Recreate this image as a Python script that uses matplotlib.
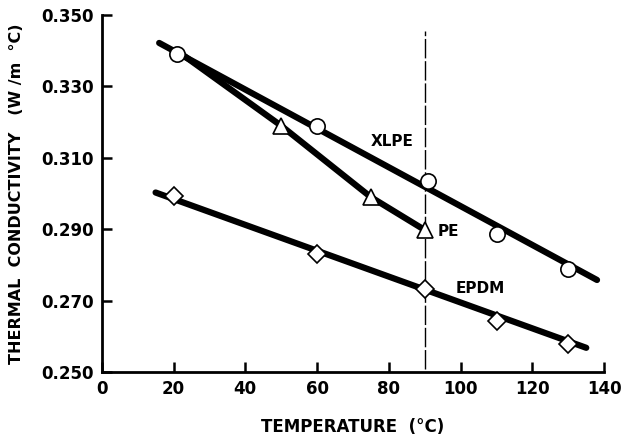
import matplotlib
matplotlib.use("Agg")
import matplotlib.pyplot as plt

plt.rcParams['font.family'] = ['DejaVu Sans']

# Measured data points
xlpe_t = [21, 60, 91, 110, 130]
xlpe_k = [0.339, 0.319, 0.3035, 0.2887, 0.2790]
pe_t = [21, 50, 75, 90]
pe_k = [0.340, 0.319, 0.299, 0.2898]
epdm_t = [20, 60, 90, 110, 130]
epdm_k = [0.2993, 0.2832, 0.2733, 0.2643, 0.2578]

# Fitted straight lines (end points)
xlpe_fit_t = [16, 138]
xlpe_fit_k = [0.3422, 0.2758]
epdm_fit_t = [15, 135]
epdm_fit_k = [0.3003, 0.2568]

# Vertical reference line
ref_t = 90
ref_k = [0.251, 0.3455]

xticks = [0, 20, 40, 60, 80, 100, 120, 140]
yticks = [0.250, 0.270, 0.290, 0.310, 0.330, 0.350]

fig = plt.figure(figsize=(6.32, 4.44), dpi=100)
ax = fig.add_axes([0.161, 0.162, 0.795, 0.804])

ax.plot([ref_t, ref_t], ref_k, color='black', lw=1.0, ls=(0, (14, 2)), zorder=1)

lw = 4.5
ax.plot(xlpe_fit_t, xlpe_fit_k, color='black', lw=lw, solid_capstyle='round', zorder=2)
ax.plot(epdm_fit_t, epdm_fit_k, color='black', lw=lw, solid_capstyle='round', zorder=2)
ax.plot(pe_t, pe_k, color='black', lw=lw, solid_capstyle='round', zorder=2)

ms = 11
ax.plot(xlpe_t, xlpe_k, 'o', ms=ms, mfc='white', mec='black', mew=1.2, zorder=3)
ax.plot(pe_t[1:], pe_k[1:], '^', ms=ms, mfc='white', mec='black', mew=1.2, zorder=3)
ax.plot(epdm_t, epdm_k, 'D', ms=ms * 0.85, mfc='white', mec='black', mew=1.2, zorder=3)

ax.text(81, 0.3145, 'XLPE', fontsize=11, fontweight='bold', ha='center', va='center')
ax.text(93.5, 0.2893, 'PE', fontsize=11, fontweight='bold', ha='left', va='center')
ax.text(98.5, 0.2735, 'EPDM', fontsize=11, fontweight='bold', ha='left', va='center')

ax.set_xlim(0, 140)
ax.set_ylim(0.250, 0.350)
ax.set_xticks(xticks)
ax.set_yticks(yticks)
ax.set_xticklabels([str(v) for v in xticks], fontsize=12, fontweight='bold')
ax.set_yticklabels([f"{v:.3f}" for v in yticks], fontsize=12, fontweight='bold')
ax.tick_params(direction='in', length=7, width=1.8, pad=6)

for s in ['top', 'right']:
    ax.spines[s].set_visible(False)
for s in ['left', 'bottom']:
    ax.spines[s].set_linewidth(2)

ax.set_xlabel('TEMPERATURE  (°C)', fontsize=12, fontweight='bold', labelpad=14)
ax.set_ylabel('THERMAL  CONDUCTIVITY   (W /m  °C)', fontsize=11.5, fontweight='bold', labelpad=12)

fig.savefig('out.png', dpi=100)
